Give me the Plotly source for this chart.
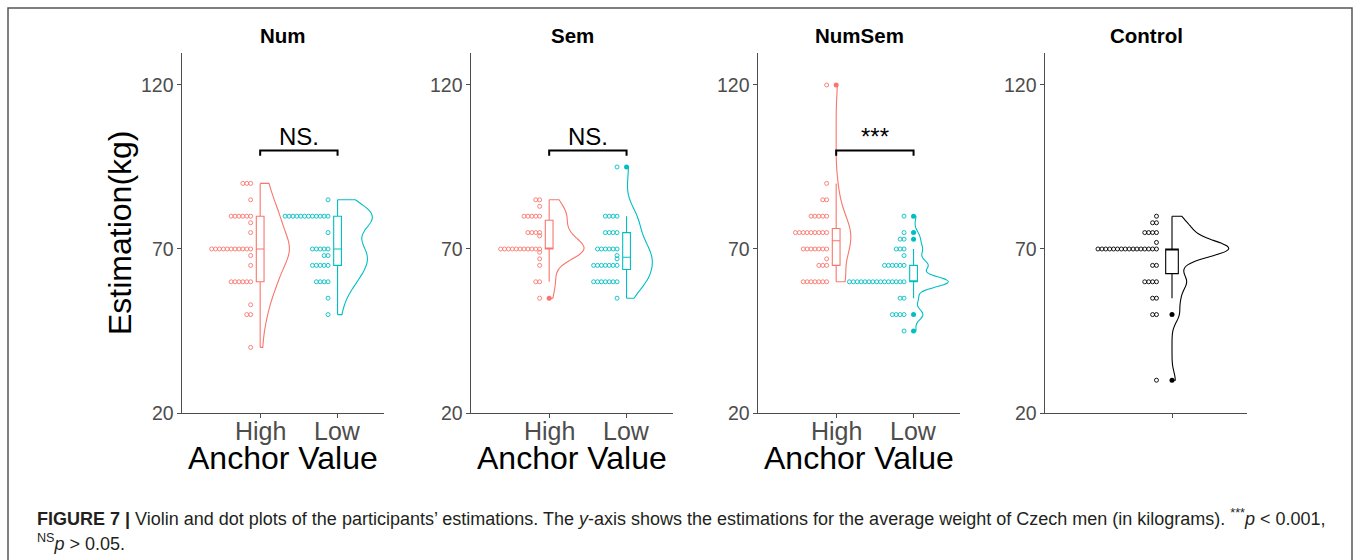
import numpy as np
import plotly.graph_objects as go

# ---------------- data (value, count pairs) ----------------
panels = ["Num", "Sem", "NumSem", "Control"]
anchor_labels = ["High", "Low"]

num_high_vals = [90, 85, 80, 78, 75, 70, 68, 65, 60, 53, 50, 40]
num_high_cnts = [3, 1, 6, 1, 1, 11, 1, 1, 6, 1, 2, 1]
num_low_vals = [85, 80, 75, 70, 68, 65, 60, 55, 50]
num_low_cnts = [1, 12, 1, 5, 2, 5, 4, 1, 1]

sem_high_vals = [85, 83, 80, 75, 74, 70, 69, 67, 65, 60, 55]
sem_high_cnts = [2, 1, 5, 4, 1, 11, 1, 1, 1, 2, 1]
sem_low_vals = [95, 80, 75, 70, 68, 67, 65, 60, 55]
sem_low_cnts = [1, 4, 4, 6, 1, 1, 7, 7, 1]

numsem_high_vals = [120, 90, 85, 80, 75, 70, 67, 65, 60]
numsem_high_cnts = [1, 1, 2, 5, 9, 7, 1, 3, 7]
numsem_low_vals = [80, 75, 73, 70, 68, 65, 60, 55, 50, 45]
numsem_low_cnts = [1, 1, 2, 3, 1, 6, 15, 2, 4, 1]

control_vals = [80, 78, 75, 72, 70, 65, 60, 55, 50, 30]
control_cnts = [1, 2, 4, 1, 16, 2, 4, 2, 2, 1]

y_ticks = [20, 70, 120]
significance = ["NS.", "NS.", "***", None]
bracket_level = [100, 100, 100, None]

caption_line1 = ("<b>FIGURE 7 |</b> Violin and dot plots of the participants\u2019 estimations. "
                 "The <i>y</i>-axis shows the estimations for the average weight of Czech men "
                 "(in kilograms). <sup>***</sup><i>p</i> &lt; 0.001,")
caption_line2 = "<sup>NS</sup><i>p</i> &gt; 0.05."

# ---------------- styles / layout geometry ----------------
W, H = 1357, 560
RED, TEAL, BLACK = "#F8766D", "#00BFC4", "#000000"
FONT = "Liberation Sans, Arial, Helvetica, sans-serif"
AXIS_COL = "#4d4d4d"
panel_px = [(182, 384), (471, 673), (758, 960), (1045, 1247)]
plot_top_px, plot_bot_px = 53, 413
x_ranges = [[-0.01, 2.6], [-0.01, 2.6], [-0.01, 2.6], [-0.006, 1.594]]
y_range = [20, 129.75]
DOT_NUDGE = -0.123
DOT_STEP_PX = 3.9
BOX_W = 0.1
VIOLIN_W = 0.9


def expand(vals, cnts):
    return np.repeat(np.array(vals, dtype=float), cnts)


groups = [
    [(expand(num_high_vals, num_high_cnts), RED), (expand(num_low_vals, num_low_cnts), TEAL)],
    [(expand(sem_high_vals, sem_high_cnts), RED), (expand(sem_low_vals, sem_low_cnts), TEAL)],
    [(expand(numsem_high_vals, numsem_high_cnts), RED), (expand(numsem_low_vals, numsem_low_cnts), TEAL)],
    [(expand(control_vals, control_cnts), BLACK)],
]


def nrd0(x):
    sd = np.std(x, ddof=1)
    iqr = np.subtract(*np.percentile(x, [75, 25]))
    lo = min(sd, iqr / 1.34) if iqr > 0 else sd
    return 0.9 * lo * len(x) ** (-0.2)


def kde_max(x, bw):
    grid = np.linspace(x.min(), x.max(), 512)
    d = np.exp(-0.5 * ((grid[:, None] - x[None, :]) / bw) ** 2).sum(1) / (len(x) * bw * np.sqrt(2 * np.pi))
    return d.max()


def px2x(px):
    return px / W


def py2y(py):
    return 1 - py / H


fig = go.Figure()
ydom = [py2y(plot_bot_px), py2y(plot_top_px)]

for pi, (name, grp) in enumerate(zip(panels, groups)):
    ax = "" if pi == 0 else str(pi + 1)
    xref, yref = "x" + ax, "y" + ax
    x0px, x1px = panel_px[pi]
    px_per_unit = (x1px - x0px) / (x_ranges[pi][1] - x_ranges[pi][0])
    step = DOT_STEP_PX / px_per_unit
    bws = [nrd0(v) for v, _ in grp]
    peaks = [kde_max(v, b) for (v, _), b in zip(grp, bws)]
    pmax = max(peaks)
    for gi, (vals, col) in enumerate(grp):
        pos = gi + 1.0
        fig.add_trace(go.Violin(
            x0=pos, y=vals, side="positive", width=VIOLIN_W * peaks[gi] / pmax, spanmode="hard",
            bandwidth=bws[gi], points=False, scalemode="width",
            line=dict(color=col, width=1.1), fillcolor="rgba(0,0,0,0)",
            box_visible=False, meanline_visible=False, hoverinfo="skip",
            xaxis=xref, yaxis=yref, showlegend=False))
        q1, med, q3 = np.percentile(vals, [25, 50, 75])
        iqr = q3 - q1
        inside = vals[(vals >= q1 - 1.5 * iqr) & (vals <= q3 + 1.5 * iqr)]
        outl = vals[(vals < q1 - 1.5 * iqr) | (vals > q3 + 1.5 * iqr)]
        fig.add_trace(go.Box(
            x=[pos], q1=[q1], median=[med], q3=[q3],
            lowerfence=[inside.min()], upperfence=[inside.max()],
            width=BOX_W, whiskerwidth=0, fillcolor="white",
            line=dict(color=col, width=1.1), boxpoints=False,
            xaxis=xref, yaxis=yref, showlegend=False, hoverinfo="skip"))
        if len(outl):
            uo = np.unique(outl)
            fig.add_trace(go.Scatter(
                x=[pos] * len(uo), y=uo, mode="markers",
                marker=dict(color=col, size=5, symbol="circle"),
                xaxis=xref, yaxis=yref, showlegend=False, hoverinfo="skip"))
        dx, dy = [], []
        uv, uc = np.unique(vals, return_counts=True)
        for v, c in zip(uv, uc):
            for k in range(c):
                dx.append(pos + DOT_NUDGE - k * step)
                dy.append(v)
        fig.add_trace(go.Scatter(
            x=dx, y=dy, mode="markers",
            marker=dict(symbol="circle-open", size=4, color=col, line=dict(width=0.9, color=col)),
            xaxis=xref, yaxis=yref, showlegend=False, hoverinfo="skip"))

    if significance[pi]:
        yb = bracket_level[pi]
        drop = 1.6
        fig.add_shape(type="path",
                      path="M 1,%g L 1,%g L 2,%g L 2,%g" % (yb - drop, yb, yb, yb - drop),
                      xref=xref, yref=yref, line=dict(color="black", width=2))
        fig.add_annotation(x=1.5, y=yb - 0.5, xref=xref, yref=yref, text=significance[pi],
                           showarrow=False, xanchor="center", yanchor="bottom",
                           font=dict(family=FONT, size=24, color="black"))

    ntick = len(grp)
    fig.update_layout(**{
        "xaxis" + ax: dict(
            domain=[px2x(x0px), px2x(x1px)], range=x_ranges[pi], anchor=yref,
            tickvals=[i + 1 for i in range(ntick)], showticklabels=False,
            showline=True, linecolor=AXIS_COL, linewidth=1.3,
            ticks="outside", ticklen=4, tickcolor=AXIS_COL, tickwidth=1,
            showgrid=False, zeroline=False),
        "yaxis" + ax: dict(
            domain=ydom, range=y_range, anchor=xref, tickvals=y_ticks,
            showticklabels=False,
            showline=True, linecolor=AXIS_COL, linewidth=1.3,
            ticks="outside", ticklen=4, tickcolor=AXIS_COL, tickwidth=1,
            showgrid=False, zeroline=False),
    })
    for t in y_ticks:
        fig.add_annotation(x=px2x(x0px - 6), y=t, xref="paper", yref=yref, text=str(t),
                           showarrow=False, xanchor="right", yanchor="middle",
                           font=dict(family=FONT, size=19.5, color="#4d4d4d"))
    if ntick == 2:
        for gi, lab in enumerate(anchor_labels):
            fig.add_annotation(x=gi + 1, y=py2y(431), xref=xref, yref="paper", text=lab,
                               showarrow=False, xanchor="center", yanchor="middle",
                               font=dict(family=FONT, size=25, color="#4d4d4d"))
        fig.add_annotation(x=px2x((x0px + x1px) / 2), y=py2y(458), xref="paper", yref="paper",
                           text="Anchor Value", showarrow=False, xanchor="center", yanchor="middle",
                           font=dict(family=FONT, size=32, color="black"))
    fig.add_annotation(x=px2x((x0px + x1px) / 2), y=py2y(35), xref="paper", yref="paper",
                       text="<b>%s</b>" % name, showarrow=False, xanchor="center", yanchor="middle",
                       font=dict(family=FONT, size=20.5, color="black"))

fig.add_annotation(x=px2x(120), y=py2y(233), xref="paper", yref="paper",
                   text="Estimation(kg)", textangle=-90, showarrow=False,
                   xanchor="center", yanchor="middle",
                   font=dict(family=FONT, size=32, color="black"))

fig.add_annotation(x=px2x(35), y=py2y(517), xref="paper", yref="paper", text=caption_line1,
                   showarrow=False, xanchor="left", yanchor="middle",
                   font=dict(family=FONT, size=18, color="#231f20"))
fig.add_annotation(x=px2x(35), y=py2y(542), xref="paper", yref="paper", text=caption_line2,
                   showarrow=False, xanchor="left", yanchor="middle",
                   font=dict(family=FONT, size=18, color="#231f20"))

fig.add_shape(type="rect", xref="paper", yref="paper",
              x0=px2x(8), x1=px2x(1352), y0=-0.1, y1=py2y(8),
              line=dict(color="#555555", width=1.5), layer="below")

fig.update_layout(width=W, height=H, margin=dict(l=0, r=0, t=0, b=0),
                  paper_bgcolor="white", plot_bgcolor="white",
                  violinmode="overlay", boxmode="overlay",
                  font=dict(family=FONT))

fig.write_html("out.html", config={"displayModeBar": False},
               post_script="document.body.style.margin='0px';document.body.style.overflow='hidden';")
